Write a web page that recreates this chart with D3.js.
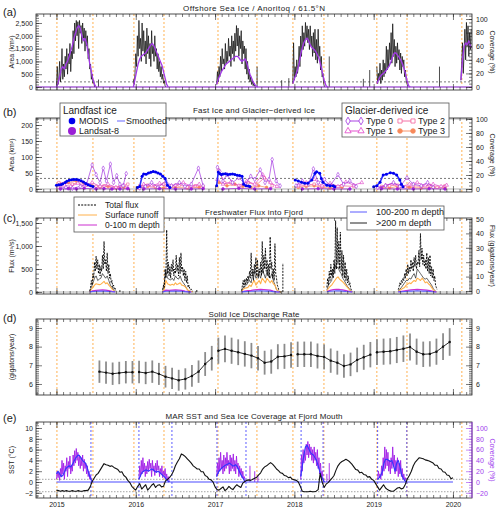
<!DOCTYPE html>
<html><head><meta charset="utf-8">
<script src="https://cdn.jsdelivr.net/npm/d3@7/dist/d3.min.js"></script>
<style>
body{margin:0;background:#fff;}
svg{font-family:'Liberation Sans',Arial,Helvetica,sans-serif;}
</style></head><body>
<svg id="c" width="500" height="513"></svg>
<script>
// ---------------- DATA ----------------
const years = [2015, 2016, 2017, 2018, 2019, 2020];
const orangeDates = [2015.006, 2015.46, 2015.977, 2016.356, 2017.037, 2017.528, 2017.982, 2018.373, 2019.04, 2019.42, 2020.112];
const blueDates = [2015.435, 2016.04, 2016.456, 2017.024, 2017.39, 2018.085, 2018.362, 2019.05, 2019.418];

// (a) offshore sea ice, km2 seasons (step 0.01 yr) and coverage % seasons
const seaIceStep = 0.01, seaIceSmoothStep = 0.02;
const seaIceAreaStarts = [2015.00, 2015.97, 2017.02];
const seaIceArea = [
 [50,800,100,300,1000,200,600,1500,300,900,400,1200,700,1500,500,1300,900,1700,600,1400,1100,2200,1300,2500,1800,2600,2000,2550,1500,2600,2100,2400,1700,2500,1900,2300,1400,2200,1600,2000,1100,1500,700,900,300,500,150,250,0],
 [300,100,500,1300,800,2000,1200,2600,1500,1900,1000,2500,1400,2200,1200,1800,900,2300,1300,2000,1100,1700,800,2200,1300,1600,1000,2000,1200,1500,700,1300,600,1000,400,800,300,500,150,250,50,0],
 [100,600,200,800,400,1200,600,1500,900,1100,700,1700,900,1400,1000,1900,1200,1600,800,2000,1300,1800,1000,2100,1400,2400,1600,2300,1200,2000,1500,2200,900,1800,1300,1600,700,1500,500,1000,300,700,200,400,100,250,50,150,30,0]
];
const seaIceSmoothArea = [
 [0,150,400,700,800,700,900,1000,1200,1400,1600,1900,2100,2300,2400,2300,2000,1800,1900,1700,1300,900,600,300,100,0],
 [0,300,600,900,1100,1200,1250,1300,1350,1450,1550,1650,1700,1600,1450,1300,1150,1000,850,600,350,100,0],
 [100,300,450,600,700,800,900,950,1000,1050,1100,1150,1200,1200,1150,1050,1000,1050,1100,950,700,500,350,200,100,30,0]
];
const seaIceCoverStarts = [2017.98, 2019.04, 2020.10];
const seaIceCover = [
 [5,65,10,30,15,40,20,35,60,30,75,45,90,55,80,60,95,70,90,65,85,55,90,60,75,45,80,50,85,40,70,35,85,45,60,25,45,15,20,5,0],
 [30,5,20,10,35,5,25,10,40,15,35,20,60,25,55,30,65,40,80,35,93,45,70,30,60,35,65,40,55,25,50,20,45,30,40,15,25,10,5,0],
 [10,35,65,20,50,85,40,95,60,90,45,80,55,85]
];
const seaIceSmoothCover = [
 [5,12,18,25,35,48,58,65,70,72,68,62,58,56,54,50,45,38,28,18,8,2,0],
 [5,10,15,18,20,22,25,28,32,38,45,50,50,47,44,40,35,28,20,10,2,0],
 [10,40,60,65,62,68,60,58]
];
const seaIceSpikes = [[2015.53,11],[2017.53,30],[2017.84,10],[2017.93,13],[2018.44,45],[2018.87,12],[2018.95,25],[2019.83,30]];

// (b) fast ice and glacier-derived ice, km2
const modis = [
 [[2015.00,12],[2015.03,13],[2015.06,14],[2015.08,16],[2015.11,20],[2015.13,24],[2015.16,27],[2015.19,29],[2015.22,30],[2015.25,30],[2015.28,28],[2015.31,26],[2015.34,22],[2015.37,17],[2015.40,13],[2015.43,10],[2015.46,8]],
 [[2016.02,5],[2016.05,8],[2016.08,40],[2016.10,47],[2016.13,46],[2016.16,50],[2016.19,52],[2016.22,55],[2016.25,53],[2016.28,50],[2016.31,47],[2016.34,40],[2016.37,33],[2016.40,12],[2016.43,5]],
 [[2017.02,10],[2017.04,53],[2017.06,48],[2017.08,45],[2017.10,47],[2017.13,48],[2017.16,45],[2017.19,46],[2017.22,47],[2017.25,45],[2017.28,43],[2017.31,42],[2017.34,40],[2017.36,15],[2017.39,10],[2017.42,9],[2017.44,8]],
 [[2018.01,28],[2018.05,25],[2018.09,21],[2018.13,18],[2018.17,18],[2018.22,28],[2018.26,49],[2018.28,54],[2018.32,49],[2018.34,33],[2018.36,21],[2018.41,12],[2018.45,10],[2018.49,10],[2018.51,7]],
 [[2019.00,7],[2019.04,10],[2019.08,21],[2019.12,44],[2019.16,46],[2019.21,51],[2019.25,49],[2019.29,44],[2019.33,28],[2019.35,15],[2019.37,7]]
];
const landsat = [
 [[2015.05,0],[2015.15,1],[2015.25,0],[2015.35,2],[2015.5,0],[2015.6,1],[2015.7,0],[2015.8,0],[2015.9,1]],
 [[2016.1,0],[2016.3,1],[2016.5,0],[2016.7,0],[2016.85,1]],
 [[2017.1,0],[2017.3,2],[2017.5,0],[2017.7,1]],
 [[2018.1,0],[2018.3,1],[2018.5,0],[2018.7,0]],
 [[2019.1,1],[2019.3,0],[2019.5,0],[2019.7,1],[2019.9,0]]
];
const type0 = [
 [[2015.05,3],[2015.12,5],[2015.2,2],[2015.3,8],[2015.38,15],[2015.45,75],[2015.5,45],[2015.55,20],[2015.59,65],[2015.63,25],[2015.68,78],[2015.72,20],[2015.76,42],[2015.8,15],[2015.84,10],[2015.88,48]],
 [[2016.05,3],[2016.12,8],[2016.2,20],[2016.28,5],[2016.38,25],[2016.45,10],[2016.55,20],[2016.62,8],[2016.7,15],[2016.79,65],[2016.85,10]],
 [[2017.03,68],[2017.06,55],[2017.1,25],[2017.15,45],[2017.22,20],[2017.3,35],[2017.38,15],[2017.45,40],[2017.5,30],[2017.57,60],[2017.63,20],[2017.68,30],[2017.72,92],[2017.77,25],[2017.82,10]],
 [[2018.02,10],[2018.1,25],[2018.18,15],[2018.24,63],[2018.3,20],[2018.38,30],[2018.45,10],[2018.55,45],[2018.62,15],[2018.7,25],[2018.78,8]],
 [[2019.05,5],[2019.15,10],[2019.25,20],[2019.33,8],[2019.42,35],[2019.5,15],[2019.6,10],[2019.68,20],[2019.75,5]]
];
const type1 = [
 [[2015.02,5],[2015.1,12],[2015.18,8],[2015.27,18],[2015.35,10],[2015.45,20],[2015.55,8],[2015.65,15],[2015.75,5],[2015.85,12],[2015.9,3]],
 [[2016.03,2],[2016.1,15],[2016.2,10],[2016.3,18],[2016.4,5],[2016.5,12],[2016.6,20],[2016.7,8],[2016.8,15]],
 [[2017.03,30],[2017.1,15],[2017.2,22],[2017.3,10],[2017.4,25],[2017.5,15],[2017.6,45],[2017.7,20],[2017.78,8]],
 [[2018.05,12],[2018.15,20],[2018.25,30],[2018.35,10],[2018.45,18],[2018.55,8],[2018.65,22],[2018.75,12],[2018.85,20]],
 [[2019.05,3],[2019.15,12],[2019.25,18],[2019.35,8],[2019.45,15],[2019.55,20],[2019.65,10],[2019.75,15],[2019.85,8],[2019.92,12]]
];
const type2 = [
 [[2015.03,20],[2015.1,18],[2015.2,15],[2015.3,22],[2015.4,12],[2015.5,8],[2015.6,10],[2015.7,5],[2015.8,8],[2015.9,15]],
 [[2016.05,10],[2016.15,12],[2016.25,8],[2016.35,15],[2016.45,10],[2016.55,12],[2016.65,6],[2016.75,10],[2016.85,8]],
 [[2017.04,60],[2017.12,20],[2017.22,15],[2017.32,10],[2017.42,20],[2017.52,12],[2017.62,35],[2017.72,10]],
 [[2018.05,8],[2018.15,12],[2018.25,15],[2018.35,8],[2018.45,12],[2018.6,10],[2018.75,8]],
 [[2019.1,8],[2019.2,10],[2019.3,12],[2019.4,6],[2019.5,10],[2019.6,8],[2019.7,12],[2019.8,5],[2019.9,10]]
];
const type3 = [
 [[2015.05,15],[2015.15,20],[2015.25,25],[2015.35,18],[2015.45,10],[2015.55,5],[2015.65,8],[2015.75,3],[2015.85,5]],
 [[2016.05,5],[2016.15,8],[2016.25,5],[2016.35,3],[2016.5,5],[2016.65,3],[2016.8,5]],
 [[2017.05,20],[2017.15,10],[2017.25,15],[2017.35,8],[2017.45,5],[2017.55,10],[2017.65,5]],
 [[2018.05,5],[2018.15,8],[2018.25,10],[2018.35,5],[2018.45,3],[2018.6,5]],
 [[2019.1,5],[2019.2,3],[2019.3,8],[2019.45,5],[2019.6,3],[2019.75,5],[2019.9,3]]
];

// (c) freshwater flux, m3/s
const fluxStarts = [2015.42, 2016.34, 2017.335, 2018.41, 2019.31];
const totalStep = 0.01, runoffStep = 0.02, depthStep = 0.04;
const totalFlux = [
 [20,100,250,150,400,300,650,450,780,500,700,400,600,350,550,450,800,500,1100,600,700,450,850,400,600,300,400,200,250,100,150,50,80,20],
 [50,150,100,500,300,1350,400,650,350,550,300,600,450,700,350,500,400,800,450,600,350,750,400,850,450,550,350,500,250,450,200,350,100,150,80,50,60,30,20],
 [30,150,250,100,280,150,300,200,350,250,450,300,850,350,500,250,600,400,750,350,700,300,500,400,650,350,1100,400,800,500,950,450,700,350,600,300,1200,500,650,300,500,250,1050,400,300,150,100,30,10,0,0],
 [100,300,150,450,250,600,350,500,300,700,400,1550,500,1400,600,1100,500,1300,450,900,350,800,300,650,250,500,200,350,150,200,80,40,10],
 [50,100,200,150,250,200,300,250,400,300,500,350,600,400,550,450,700,500,650,450,750,550,800,500,650,600,900,550,1270,700,950,600,800,550,700,500,850,450,750,400,800,350,550,300,500,250,350,150,100,50]
];
const runoff = [
 [5,60,100,150,180,170,160,170,200,230,180,200,150,110,70,30,10],
 [20,60,250,180,160,150,170,150,200,160,180,200,150,140,120,80,40,20,10,5],
 [10,60,80,90,100,150,120,200,250,150,200,250,180,300,250,200,300,250,200,250,180,150,60,20,5,0],
 [20,80,120,150,200,250,300,330,280,250,220,180,140,100,60,20,5],
 [10,40,60,80,100,150,170,200,180,220,250,230,300,280,250,300,260,200,220,180,150,100,50,20,5]
];
const deep200 = [
 [10,100,200,300,350,250,280,300,400,350,300,350,250,150,100,40,10],
 [30,200,450,300,280,260,300,250,350,300,280,350,250,200,150,80,30,15,10,5],
 [10,100,120,150,200,250,200,400,450,300,350,400,300,500,400,300,450,350,300,400,250,150,50,10,0,0],
 [40,150,200,250,450,600,500,550,450,400,300,250,180,120,80,20,5],
 [20,60,100,150,200,250,250,300,280,350,400,300,500,450,400,350,300,280,300,250,200,150,80,30,5]
];
const depth0to100 = [
 [5,25,35,40,45,40,30,15,5],
 [5,40,35,40,45,40,35,20,8,2],
 [5,20,30,35,45,50,55,50,45,40,20,5,0],
 [10,35,50,60,55,45,30,15,3],
 [5,15,25,35,45,50,55,50,45,40,30,12,3]
];
const depth100to200 = [
 [2,10,15,18,20,18,12,6,2],
 [2,15,15,18,20,18,15,8,3,1],
 [2,8,12,15,20,22,25,22,20,18,8,2,0],
 [4,15,22,25,24,20,12,6,1],
 [2,6,10,15,20,22,25,22,20,18,12,5,1]
];
const fluxSpikes = [[2015.8,40],[2016.77,60],[2017.855,630]];

// (d) solid ice discharge, monthly from Jul 2015, gigatons/year
const dischargeStart = 2015.5;
const discharge = [6.66,6.61,6.55,6.59,6.63,6.63,
 6.64,6.59,6.66,6.54,6.39,6.30,6.20,6.27,6.43,6.66,7.07,7.38,
 7.78,7.88,7.78,7.70,7.61,7.52,7.38,7.14,7.20,7.46,7.48,7.55,
 7.59,7.59,7.59,7.50,7.45,7.25,7.14,6.96,7.05,7.29,7.43,7.57,
 7.70,7.73,7.75,7.82,7.89,7.98,7.73,7.59,7.61,7.73,8.00,8.25];
const dischargeErr = [0.60,0.60,0.60,0.60,0.60,0.60,
 0.60,0.60,0.60,0.59,0.58,0.57,0.56,0.57,0.58,0.60,0.64,0.66,
 0.70,0.71,0.70,0.69,0.68,0.68,0.66,0.64,0.65,0.67,0.67,0.68,
 0.68,0.68,0.68,0.67,0.67,0.65,0.64,0.63,0.63,0.66,0.67,0.68,
 0.69,0.70,0.70,0.70,0.71,0.72,0.70,0.68,0.68,0.70,0.72,0.74];

// (e) MAR SST (step 0.025 yr) and sea ice coverage at fjord mouth
const sstStart = 2015.0, sstStep = 0.025;
const sst = [-1.5,-1.6,-1.7,-1.6,-1.7,-1.6,-1.7,-1.7,-1.6,-1.7,
 -1.7,-1.6,-1.7,-1.7,-1.6,-1.6,-1.5,-0.9,0.1,0.7,
 1.3,1.6,2.2,2.8,3.4,3.2,3.1,2.9,3.0,2.7,
 2.5,2.3,1.8,1.9,1.2,0.9,0.3,-0.1,-0.8,-1.2,
 -1.5,-0.8,-0.3,-1.3,-0.9,-0.5,-1.5,-1.1,-0.6,-0.3,
 -1.0,-0.6,-0.5,-0.9,-0.8,0.2,0.5,0.8,1.3,2.0,
 3.0,3.7,4.3,5.2,5.0,4.7,4.3,3.9,3.5,3.0,
 2.7,2.4,2.4,1.9,1.9,1.2,1.0,0.5,0.4,0.0,
 -0.9,-1.4,-1.5,-1.2,-0.9,-1.6,-1.3,-0.8,-1.2,-1.4,
 -0.9,-0.5,-0.8,-1.0,-0.2,0.1,0.3,0.4,0.3,0.5,
 0.7,0.9,1.3,1.7,2.4,2.8,3.0,3.3,3.6,3.3,
 2.9,2.4,2.1,1.7,1.6,1.2,1.1,0.8,0.9,0.5,
 0.4,0.3,0.0,-0.8,-1.7,-1.8,-1.8,-1.8,-1.7,-1.8,
 -1.8,-1.7,-1.4,1.6,0.0,-1.0,-0.4,-0.1,0.3,0.7,
 1.2,2.2,3.0,3.5,3.8,4.0,4.2,4.0,3.7,3.3,
 2.8,2.3,2.2,1.7,1.8,1.4,1.3,0.9,1.0,0.5,
 0.3,-0.3,-0.9,-1.5,-1.0,-0.5,-1.1,-1.4,-1.6,-1.7,
 -1.7,-1.4,-1.1,-1.0,-1.3,-1.1,-0.4,0.6,1.2,2.0,
 3.0,3.7,4.1,4.5,4.4,4.3,4.1,4.0,3.9,3.7,
 3.5,3.1,3.1,2.5,2.4,1.9,1.8,1.3,1.2,0.6,0.8];
const coverStarts = [2015.0, 2016.04, 2017.02, 2018.08, 2019.05];
const coverStep = 0.01, coverSmoothStep = 0.02;
const coverDaily = [
 [5,20,8,18,3,25,10,40,15,35,5,30,20,45,10,38,25,48,15,30,20,50,30,58,35,62,40,55,30,50,25,45,30,50,20,42,25,35,15,30,10,20,5,12,2,0],
 [5,30,10,40,15,45,20,35,10,30,15,38,20,42,25,35,10,40,20,30,12,35,18,40,22,30,10,25,15,30,8,20,12,25,5,15,3,10,2,0],
 [10,35,15,45,20,55,25,40,15,50,20,45,25,55,30,40,15,50,20,45,25,52,20,40,15,48,25,35,10,30,15,25,8,20,5,10,2,0],
 [5,50,20,60,35,55,40,70,50,75,45,70,50,65,40,60,35,65,40,55,30,60,25,45,15,35,10,20,5,0],
 [5,20,8,15,5,30,12,45,20,65,25,60,30,55,20,40,15,45,25,65,30,50,15,40,20,45,10,35,15,40,10,25,5,15,3,8,2,0]
];
const coverSmooth = [
 [15,20,15,10,12,18,25,28,30,28,32,38,44,48,50,47,42,38,36,30,20,10,4,0],
 [5,12,18,20,22,22,20,22,24,23,20,18,20,18,15,12,10,6,3,0],
 [10,18,22,25,28,30,32,33,35,33,30,30,32,28,22,15,10,5,0],
 [10,30,50,65,68,62,55,52,50,45,40,30,20,10,5,0],
 [5,8,12,20,35,42,42,40,38,40,30,20,35,40,30,15,8,3,0]
];
const coverExtra = [[2017.44,30],[2017.5,20],[2017.54,12],[2018.41,15],[2018.44,35]];

// ---------------- LAYOUT ----------------
const L = 36, R = 472;
const x = d3.scaleLinear().domain([2014.742, 2020.240]).range([L, R]);
const P = {
  a: {top: 14, bottom: 90},
  b: {top: 118, bottom: 192},
  c: {top: 218, bottom: 294},
  d: {top: 319, bottom: 395},
  e: {top: 422, bottom: 498}
};
const ya = d3.scaleLinear().domain([-117, 2851]).range([90, 14]);
const yaR = d3.scaleLinear().domain([-4.4, 107.4]).range([90, 14]);
const yb = d3.scaleLinear().domain([-9.4, 221.9]).range([192, 118]);
const ybR = d3.scaleLinear().domain([-4.3, 101.4]).range([192, 118]);
const yc = d3.scaleLinear().domain([-43.5, 1609]).range([294, 218]);
const ycR = d3.scaleLinear().domain([-2.1, 50.7]).range([294, 218]);
const yd = d3.scaleLinear().domain([5.41, 9.48]).range([395, 319]);
const ye = d3.scaleLinear().domain([-2.96, 11.11]).range([498, 422]);
const yeR = d3.scaleLinear().domain([-29.6, 111.1]).range([498, 422]);

const FONT = "'Liberation Sans',Arial,Helvetica,sans-serif";
const ORANGE = "#ffa940", PURPLE = "#a238e8";
const C0 = "#a030e0", C1 = "#e040c8", C2 = "#f2609a", C3 = "#f7895a";

const svg = d3.select("#c");
svg.append("rect").attr("width", 500).attr("height", 513).attr("fill", "#fff");
const defs = svg.append("defs");
Object.entries(P).forEach(([k, p]) => {
  defs.append("clipPath").attr("id", "clip" + k).append("rect")
    .attr("x", L).attr("y", p.top).attr("width", R - L).attr("height", p.bottom - p.top);
});
const layer = k => svg.append("g").attr("clip-path", `url(#clip${k})`);
const months = d3.range(0, 67).map(k => 2014.75 + k / 12).filter(m => m > 2014.742 && m < 2020.24);

function styleAxis(a, color) {
  a.select(".domain").remove();
  a.attr("font-family", FONT).attr("font-size", 7);
  a.selectAll("line").attr("stroke", color || "#222").attr("stroke-width", 0.6);
  a.selectAll("text").attr("fill", color || "#222");
  return a;
}
function frame(p, yl, lmaj, lmin, yr, rmaj, rmin, rcolor, showYears, fmt) {
  const g = svg.append("g");
  const f = fmt || null;
  styleAxis(g.append("g").attr("transform", `translate(0,${p.bottom})`)
    .call(d3.axisBottom(x).tickValues(years).tickSizeInner(-6).tickSizeOuter(0).tickPadding(4)
      .tickFormat(showYears ? d3.format("d") : () => "")));
  styleAxis(g.append("g").attr("transform", `translate(0,${p.bottom})`)
    .call(d3.axisBottom(x).tickValues(months).tickSizeInner(-3).tickSizeOuter(0).tickFormat(() => "")));
  styleAxis(g.append("g").attr("transform", `translate(0,${p.top})`)
    .call(d3.axisTop(x).tickValues(years).tickSizeInner(-6).tickSizeOuter(0).tickFormat(() => "")));
  styleAxis(g.append("g").attr("transform", `translate(0,${p.top})`)
    .call(d3.axisTop(x).tickValues(months).tickSizeInner(-3).tickSizeOuter(0).tickFormat(() => "")));
  styleAxis(g.append("g").attr("transform", `translate(${L},0)`)
    .call(d3.axisLeft(yl).tickValues(lmaj).tickSizeInner(-6).tickSizeOuter(0).tickPadding(3).tickFormat(f)));
  styleAxis(g.append("g").attr("transform", `translate(${L},0)`)
    .call(d3.axisLeft(yl).tickValues(lmin).tickSizeInner(-3).tickSizeOuter(0).tickFormat(() => "")));
  styleAxis(g.append("g").attr("transform", `translate(${R},0)`)
    .call(d3.axisRight(yr).tickValues(rmaj).tickSizeInner(-6).tickSizeOuter(0).tickPadding(4).tickFormat(f)), rcolor);
  styleAxis(g.append("g").attr("transform", `translate(${R},0)`)
    .call(d3.axisRight(yr).tickValues(rmin).tickSizeInner(-3).tickSizeOuter(0).tickFormat(() => "")), rcolor);
  g.append("rect").attr("x", L).attr("y", p.top).attr("width", R - L).attr("height", p.bottom - p.top)
    .attr("fill", "none").attr("stroke", "#222").attr("stroke-width", 0.8);
  if (rcolor) g.append("line").attr("x1", R).attr("x2", R).attr("y1", p.top).attr("y2", p.bottom)
    .attr("stroke", rcolor).attr("stroke-width", 0.9);
}
function vlines(k, dates, color) {
  const p = P[k];
  layer(k).selectAll(null).data(dates).join("line")
    .attr("x1", d => x(d)).attr("x2", d => x(d)).attr("y1", p.top).attr("y2", p.bottom)
    .attr("stroke", color).attr("stroke-width", 0.9).attr("stroke-dasharray", "2,2");
}
function hline(k, ys, v, color, dash, w) {
  layer(k).append("line").attr("x1", L).attr("x2", R).attr("y1", ys(v)).attr("y2", ys(v))
    .attr("stroke", color).attr("stroke-width", w || 0.8).attr("stroke-dasharray", dash || null);
}
const stepPts = (start, step, vals) => vals.map((v, i) => [start + i * step, v]);
function drawLine(g, pts, ys, color, w, dash) {
  g.append("path").datum(pts).attr("fill", "none").attr("stroke", color).attr("stroke-width", w)
    .attr("stroke-dasharray", dash || null).attr("stroke-linejoin", "round")
    .attr("d", d3.line().x(d => x(d[0])).y(d => ys(d[1])));
}
function txt(xp, yp, s, size, opt) {
  opt = opt || {};
  const t = svg.append("text").attr("x", xp).attr("y", yp).text(s).attr("font-size", size)
    .attr("font-family", FONT).attr("fill", opt.color || "#222")
    .attr("text-anchor", opt.anchor || "start");
  if (opt.rot) t.attr("transform", `rotate(${opt.rot},${xp},${yp})`);
  if (opt.len) t.attr("textLength", opt.len).attr("lengthAdjust", "spacing");
  return t;
}

// ---------------- PANEL (a) ----------------
{
  vlines("a", orangeDates, ORANGE);
  hline("a", ya, 0, "#d8d8d8", null, 2);
  hline("a", ya, 200, "#555", "2,2", 0.8);
  const g = layer("a");
  seaIceArea.forEach((vals, i) => drawLine(g, stepPts(seaIceAreaStarts[i], seaIceStep, vals), ya, "#111", 0.75));
  seaIceCover.forEach((vals, i) => drawLine(g, stepPts(seaIceCoverStarts[i], seaIceStep, vals), yaR, "#111", 0.75));
  g.selectAll(null).data(seaIceSpikes).join("line")
    .attr("x1", d => x(d[0])).attr("x2", d => x(d[0])).attr("y1", yaR(0)).attr("y2", d => yaR(d[1]))
    .attr("stroke", "#222").attr("stroke-width", 0.8);
  drawLine(g, [[2014.742, 0], [2020.24, 0]], ya, PURPLE, 1.2);
  seaIceSmoothArea.forEach((vals, i) => drawLine(g, stepPts(seaIceAreaStarts[i], seaIceSmoothStep, vals), ya, PURPLE, 1.3));
  seaIceSmoothCover.forEach((vals, i) => drawLine(g, stepPts(seaIceCoverStarts[i], seaIceSmoothStep, vals), yaR, PURPLE, 1.3));
  frame(P.a, ya, [0, 500, 1000, 1500, 2000, 2500], d3.range(0, 2851, 100), yaR, [0, 20, 40, 60, 80, 100], d3.range(0, 106, 5));
}

// ---------------- PANEL (b) ----------------
{
  vlines("b", orangeDates, ORANGE);
  hline("b", yb, 0, "#d8d8d8", null, 2);
  hline("b", ybR, 100, "#d8d8d8", null, 2);
  hline("b", yb, 33, "#555", "2,2", 0.8);
  const g = layer("b");
  const series = [
    {data: type3, color: C3, sym: d3.symbolCircle, fill: true},
    {data: type2, color: C2, sym: d3.symbolSquare, fill: false},
    {data: type1, color: C1, sym: d3.symbolTriangle, fill: false},
    {data: type0, color: C0, sym: d3.symbolDiamond, fill: false},
    {data: landsat, color: "#9a1fd6", sym: d3.symbolCircle, fill: true}
  ];
  series.forEach(s => {
    s.data.forEach(season => {
      drawLine(g, season, yb, s.color, 0.7);
      g.selectAll(null).data(season).join("path")
        .attr("transform", d => `translate(${x(d[0])},${yb(d[1])})`)
        .attr("d", d3.symbol().type(s.sym).size(6))
        .attr("fill", s.fill ? s.color : "#fff").attr("stroke", s.color).attr("stroke-width", 0.6);
    });
  });
  modis.forEach(season => {
    drawLine(g, season, yb, "#2a2aff", 1.6);
    g.selectAll(null).data(season).join("circle")
      .attr("cx", d => x(d[0])).attr("cy", d => yb(d[1])).attr("r", 1.5).attr("fill", "#0000ee");
  });
  frame(P.b, yb, [0, 50, 100, 150, 200], d3.range(0, 221, 10), ybR, [0, 20, 40, 60, 80, 100], d3.range(0, 101, 5));
}

// ---------------- PANEL (c) ----------------
{
  vlines("c", orangeDates, ORANGE);
  hline("c", yc, 0, "#d8d8d8", null, 2);
  const g = layer("c");
  deep200.forEach((vals, i) => drawLine(g, stepPts(fluxStarts[i], runoffStep, vals), yc, "#222", 0.7));
  runoff.forEach((vals, i) => drawLine(g, stepPts(fluxStarts[i], runoffStep, vals), yc, "#ffb04a", 1.1));
  totalFlux.forEach((vals, i) => drawLine(g, stepPts(fluxStarts[i], totalStep, vals), yc, "#000", 0.9, "2,1.2"));
  g.selectAll(null).data(fluxSpikes).join("line")
    .attr("x1", d => x(d[0])).attr("x2", d => x(d[0])).attr("y1", yc(0)).attr("y2", d => yc(d[1]))
    .attr("stroke", "#000").attr("stroke-width", 0.9).attr("stroke-dasharray", "2,1.2");
  depth0to100.forEach((vals, i) => drawLine(g, stepPts(fluxStarts[i], depthStep, vals), yc, "#cc2fd0", 1.2));
  depth100to200.forEach((vals, i) => drawLine(g, stepPts(fluxStarts[i], depthStep, vals), yc, "#5a5aff", 1.1));
  frame(P.c, yc, [0, 500, 1000, 1500], d3.range(0, 1601, 100), ycR, [0, 10, 20, 30, 40, 50], d3.range(0, 51, 1));
}

// ---------------- PANEL (d) ----------------
{
  vlines("d", orangeDates, ORANGE);
  const g = layer("d");
  const pts = discharge.map((v, i) => ({t: dischargeStart + (i + 0.5) / 12, v: v, e: dischargeErr[i]}));
  g.selectAll(null).data(pts).join("line")
    .attr("x1", d => x(d.t)).attr("x2", d => x(d.t)).attr("y1", d => yd(d.v - d.e)).attr("y2", d => yd(d.v + d.e))
    .attr("stroke", "#8c8c8c").attr("stroke-width", 1.8);
  d3.groups(pts, d => Math.floor(d.t)).forEach(([yr, arr]) => {
    g.append("path").datum(arr).attr("fill", "none").attr("stroke", "#111").attr("stroke-width", 0.9)
      .attr("d", d3.line().x(d => x(d.t)).y(d => yd(d.v)));
  });
  g.selectAll(null).data(pts).join("circle").attr("cx", d => x(d.t)).attr("cy", d => yd(d.v)).attr("r", 1.2).attr("fill", "#111");
  frame(P.d, yd, [6, 7, 8, 9], d3.range(5.5, 9.45, 0.1), yd, [6, 7, 8, 9], d3.range(5.5, 9.45, 0.1), null, false, d3.format("d"));
}

// ---------------- PANEL (e) ----------------
{
  vlines("e", orangeDates, ORANGE);
  vlines("e", blueDates, "#4a4aff");
  hline("e", ye, 0.5, "#9a9a9a", "1.5,1.5", 0.9);
  hline("e", ye, -1.8, "#9a9a9a", "1.5,1.5", 0.9);
  const g = layer("e");
  coverDaily.forEach((vals, i) => drawLine(g, stepPts(coverStarts[i], coverStep, vals), yeR, "#a21fe6", 0.9));
  g.selectAll(null).data(coverExtra).join("line")
    .attr("x1", d => x(d[0])).attr("x2", d => x(d[0])).attr("y1", yeR(0)).attr("y2", d => yeR(d[1]))
    .attr("stroke", "#a21fe6").attr("stroke-width", 0.9);
  drawLine(g, [[2015.0, 0], [2020.0, 0]], yeR, "#4a4aff", 1.2);
  coverSmooth.forEach((vals, i) => drawLine(g, stepPts(coverStarts[i], coverSmoothStep, vals), yeR, "#3535ff", 1.2));
  drawLine(g, stepPts(sstStart, sstStep, sst), ye, "#111", 1.1);
  frame(P.e, ye, [-2, 0, 2, 4, 6, 8, 10], d3.range(-2.5, 11.01, 0.5), yeR, [-20, 0, 20, 40, 60, 80, 100], d3.range(-25, 111, 5), "#a040ee", true);
}

// ---------------- TEXT ----------------
txt(254, 11, "Offshore Sea Ice / Anoritoq / 61.5°N", 8, {anchor: "middle", len: 142});
txt(254, 113, "Fast Ice and Glacier−derived Ice", 8, {anchor: "middle", len: 122});
txt(254, 215, "Freshwater Flux into Fjord", 8, {anchor: "middle", len: 98});
txt(254, 317, "Solid Ice Discharge Rate", 8, {anchor: "middle", len: 91});
txt(254, 419, "MAR SST and Sea Ice Coverage at Fjord Mouth", 8, {anchor: "middle", len: 177});
[["(a)", 16], ["(b)", 116], ["(c)", 222], ["(d)", 322], ["(e)", 422]].forEach(([s, yy]) => txt(3, yy, s, 11));

txt(14, 52, "Area (km²)", 7, {anchor: "middle", rot: -90});
txt(490, 52, "Coverage (%)", 7, {anchor: "middle", rot: 90});
txt(14, 155, "Area (km²)", 7, {anchor: "middle", rot: -90});
txt(490, 155, "Coverage (%)", 7, {anchor: "middle", rot: 90});
txt(14, 256, "Flux (m³/s)", 7, {anchor: "middle", rot: -90});
txt(490, 256, "Flux (gigatons/year)", 7, {anchor: "middle", rot: 90});
txt(14, 357, "(gigatons/year)", 7, {anchor: "middle", rot: -90});
txt(14, 460, "SST (°C)", 7, {anchor: "middle", rot: -90});
txt(490, 460, "Coverage (%)", 7, {anchor: "middle", rot: 90, color: "#a040ee"});

// legend (b) landfast
{
  svg.append("rect").attr("x", 60).attr("y", 103).attr("width", 106).attr("height", 33)
    .attr("fill", "#fff").attr("stroke", "#555").attr("stroke-width", 0.8);
  txt(63, 114, "Landfast ice", 10);
  svg.append("circle").attr("cx", 72).attr("cy", 121).attr("r", 3.3).attr("fill", "#0000ee");
  txt(79, 124, "MODIS", 9);
  svg.append("line").attr("x1", 117).attr("x2", 125).attr("y1", 121).attr("y2", 121).attr("stroke", "#8080ff").attr("stroke-width", 1.2);
  txt(126, 124, "Smoothed", 9);
  svg.append("circle").attr("cx", 72).attr("cy", 131).attr("r", 4).attr("fill", "#9a1fd6");
  txt(79, 134, "Landsat-8", 9);
}
// legend (b) glacier-derived
{
  svg.append("rect").attr("x", 342).attr("y", 103).attr("width", 107).attr("height", 34)
    .attr("fill", "#fff").attr("stroke", "#555").attr("stroke-width", 0.8);
  txt(345, 114, "Glacier-derived ice", 10);
  const items = [
    {x0: 348, y0: 121, c: C0, sym: d3.symbolDiamond, fill: false, label: "Type 0"},
    {x0: 400, y0: 121, c: C2, sym: d3.symbolSquare, fill: false, label: "Type 2"},
    {x0: 348, y0: 131, c: C1, sym: d3.symbolTriangle, fill: false, label: "Type 1"},
    {x0: 400, y0: 131, c: C3, sym: d3.symbolCircle, fill: true, label: "Type 3"}
  ];
  items.forEach(it => {
    svg.append("line").attr("x1", it.x0).attr("x2", it.x0 + 13).attr("y1", it.y0).attr("y2", it.y0).attr("stroke", it.c).attr("stroke-width", 0.9);
    [it.x0, it.x0 + 13].forEach(px => svg.append("path").attr("transform", `translate(${px},${it.y0})`)
      .attr("d", d3.symbol().type(it.sym).size(17)).attr("fill", it.fill ? it.c : "#fff").attr("stroke", it.c).attr("stroke-width", 0.8));
    txt(it.x0 + 18, it.y0 + 3, it.label, 9);
  });
}
// legend (c) left
{
  svg.append("rect").attr("x", 74).attr("y", 197).attr("width", 90).attr("height", 35)
    .attr("fill", "#fff").attr("stroke", "#555").attr("stroke-width", 0.8);
  const rows = [["Total flux", "#000", "2,1.2", 205], ["Surface runoff", "#ffb04a", null, 215], ["0-100 m depth", "#cc2fd0", null, 225]];
  rows.forEach(([s, c, dash, yy]) => {
    svg.append("line").attr("x1", 78).attr("x2", 97).attr("y1", yy).attr("y2", yy).attr("stroke", c).attr("stroke-width", 1).attr("stroke-dasharray", dash);
    txt(105, yy + 3, s, 8.5);
  });
}
// legend (c) right
{
  svg.append("rect").attr("x", 347).attr("y", 206).attr("width", 97).attr("height", 24)
    .attr("fill", "#fff").attr("stroke", "#555").attr("stroke-width", 0.8);
  [["100-200 m depth", "#5a5aff", 212], [">200 m depth", "#222", 223]].forEach(([s, c, yy]) => {
    svg.append("line").attr("x1", 350).attr("x2", 367).attr("y1", yy).attr("y2", yy).attr("stroke", c).attr("stroke-width", 1);
    txt(376, yy + 3, s, 9);
  });
}
</script></body></html>
